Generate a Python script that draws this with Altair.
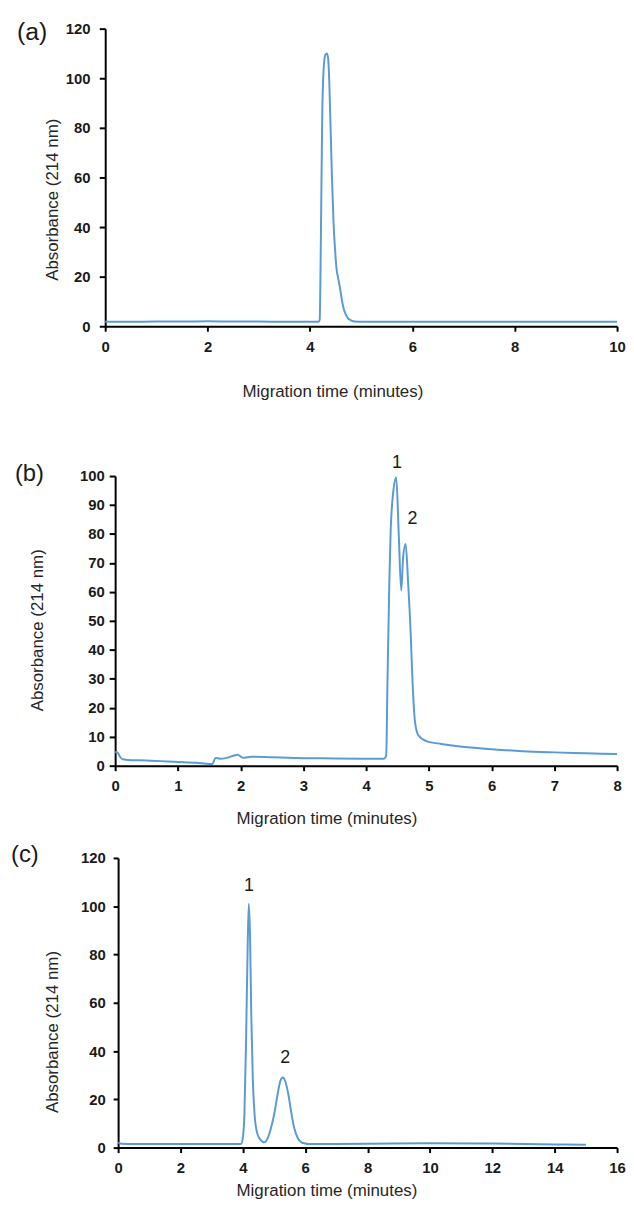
import altair as alt
import pandas as pd

FONT = "Liberation Sans"
LINE = "#5b9bd5"
INK = "#1a1a1a"

x_title = "Migration time (minutes)"
y_title = "Absorbance (214 nm)"
panel_tags = ["(a)", "(b)", "(c)"]

# Panel (a)
a_time = [0, 0.5, 1, 1.5, 2, 2.5, 3, 3.5, 4, 4.17, 4.19, 4.205, 4.22, 4.24, 4.265,
          4.30, 4.33, 4.355, 4.38, 4.40, 4.43, 4.46, 4.49, 4.52, 4.55, 4.59, 4.62,
          4.66, 4.70, 4.74, 4.80, 4.88, 5, 6, 7, 8, 9, 10]
a_abs = [1.8, 1.8, 1.9, 1.9, 2.0, 1.9, 1.9, 1.8, 1.8, 1.8, 2.6, 20, 48, 85, 103,
         109.5, 110, 108, 97, 82, 60, 42, 31, 23, 19.5, 15, 11,
         7, 4.8, 3.3, 2.4, 1.9, 1.8, 1.8, 1.8, 1.8, 1.8, 1.8]

# Panel (b)
b_time = [0, 0.04, 0.08, 0.12, 0.2, 0.5, 1.0, 1.3, 1.5, 1.55, 1.6, 1.67, 1.78, 1.95,
          2.04, 2.17, 2.5, 3.0, 3.5, 4.0, 4.28, 4.32, 4.34, 4.37, 4.39, 4.43, 4.48,
          4.52, 4.56, 4.59, 4.63, 4.67, 4.71, 4.74, 4.78, 4.83, 4.96, 5.2, 5.5, 6.0,
          6.5, 7.0, 7.5, 8.0]
b_abs = [4.7, 4.5, 3.0, 2.2, 2.0, 1.8, 1.3, 1.0, 0.6, 0.6, 2.7, 2.4, 2.7, 3.8,
         2.7, 3.1, 2.9, 2.6, 2.5, 2.4, 2.4, 3.5, 28, 63, 80, 94, 99.5,
         80, 60.5, 72, 76.5, 63, 46, 29, 15, 10.6, 8.5, 7.5, 6.6, 5.7,
         5.0, 4.6, 4.3, 4.0]
b_peak_names = ["1", "2"]
b_peak_t = [4.49, 4.74]
b_peak_v = [104.5, 85.3]

# Panel (c)
c_time = [0, 0.1, 0.5, 1, 2, 3, 3.8, 3.94, 4.0, 4.05, 4.1, 4.15, 4.19, 4.23, 4.27,
          4.32, 4.38, 4.46, 4.55, 4.63, 4.70, 4.80, 4.90, 5.00, 5.10, 5.20, 5.28,
          5.36, 5.46, 5.56, 5.66, 5.76, 5.88, 6.0, 6.1, 6.5, 8, 10, 12, 14, 15]
c_abs = [2.2, 1.6, 1.5, 1.5, 1.5, 1.5, 1.5, 1.5, 4, 14, 42, 80, 101, 88, 55,
         28, 13, 6, 3.5, 2.5, 2.2, 4, 8, 13.5, 21, 27.5, 29,
         27.5, 22, 14, 7.5, 4, 2.2, 1.7, 1.5, 1.5, 1.6, 1.8, 1.7, 1.3, 1.2]
c_peak_names = ["1", "2"]
c_peak_t = [4.2, 5.36]
c_peak_v = [108.5, 37.1]

W = 516  # common panel width (right end of every x axis)


def panel(times, values, xmax, xstep, ymax, ystep, height, x0, tag, tag_x, tag_y,
          tag_size, anchor_x, anchor_top, anchor_bottom, ytick, ypad, ytitle_x,
          ytitle_y, xtitle_x, xtitle_y, peaks=None):
    df = pd.DataFrame({"t": times, "v": values})
    x = alt.X("t:Q",
              scale=alt.Scale(domain=[0, xmax], range=[x0, W], nice=False, zero=False),
              axis=alt.Axis(values=list(range(0, xmax + 1, xstep)), format="d",
                            title=x_title, tickSize=5, labelPadding=8.5,
                            titleX=xtitle_x, titleY=xtitle_y, labelFlush=False,
                            labelOverlap=False, grid=False))
    y = alt.Y("v:Q",
              scale=alt.Scale(domain=[0, ymax], nice=False),
              axis=alt.Axis(values=list(range(0, ymax + 1, ystep)), format="d",
                            title=y_title, tickSize=ytick, labelPadding=ypad,
                            offset=-x0, titleX=ytitle_x, titleY=ytitle_y,
                            labelFlush=False, labelOverlap=False, grid=False))
    layers = [alt.Chart(df).mark_line(color=LINE, strokeWidth=2,
                                      interpolate="monotone").encode(x=x, y=y)]
    if peaks is not None:
        pdf = pd.DataFrame({"t": peaks[1], "v": peaks[2], "name": peaks[0]})
        layers.append(alt.Chart(pdf).mark_text(font=FONT, fontSize=18, color=INK,
                                               align="center", baseline="middle")
                      .encode(x=x, y=y, text="name:N"))
    tdf = pd.DataFrame({"tag": [tag]})
    layers.append(alt.Chart(tdf).mark_text(font=FONT, fontSize=tag_size, color=INK,
                                           align="left", baseline="middle")
                  .encode(x=alt.value(tag_x), y=alt.value(tag_y), text="tag:N"))
    adf = pd.DataFrame({"k": [0]})
    layers.append(alt.Chart(adf).mark_rule(opacity=0)
                  .encode(x=alt.value(anchor_x), x2=alt.value(anchor_x),
                          y=alt.value(anchor_top), y2=alt.value(anchor_bottom)))
    return alt.layer(*layers).properties(width=W, height=height)


pa = panel(a_time, a_abs, 10, 2, 120, 20, 300, 0, panel_tags[0], -89, 3, 25,
           -98, -16, 382, 6, 9.3, -44, 172, 229, 58)
pb = panel(b_time, b_abs, 8, 1, 100, 10, 292, 10, panel_tags[1], -91, -2, 24,
           -60, -69, 359, 6, 5, -69, 155, 223, 45,
           peaks=(b_peak_names, b_peak_t, b_peak_v))
pc = panel(c_time, c_abs, 16, 2, 120, 20, 292, 13, panel_tags[2], -95, -3, 24,
           -60, -26, 345, 5, 8, -57.5, 175, 223, 35,
           peaks=(c_peak_names, c_peak_t, c_peak_v))

chart = (alt.vconcat(pa, pb, pc, spacing=0)
         .properties(padding={"left": 0, "top": 0, "right": 0, "bottom": -5})
         .configure(font=FONT)
         .configure_axis(labelFont=FONT, labelFontSize=15, labelFontWeight="bold",
                         labelColor=INK, titleFont=FONT, titleFontSize=17,
                         titleFontWeight="normal", titleColor="#262626",
                         domainColor="#000000", domainWidth=2, tickColor="#000000",
                         tickWidth=2)
         .configure_view(stroke=None))

chart.save("out.html", embed_options={"renderer": "svg", "actions": False})
